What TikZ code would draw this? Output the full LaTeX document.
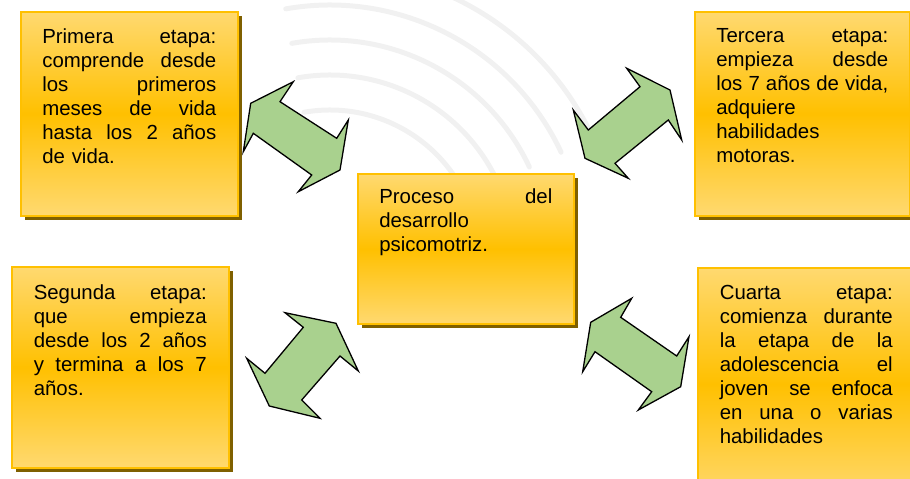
\documentclass[tikz,border=0pt]{standalone}
\usepackage{fontspec}
\setmainfont{Liberation Sans}
\usetikzlibrary{shadows}
\definecolor{boxgold}{RGB}{255,192,0}
\definecolor{boxlight}{RGB}{255,217,112}
\definecolor{boxshadow}{RGB}{127,96,0}
\definecolor{arrowgreen}{RGB}{169,209,142}
\definecolor{sealgray}{RGB}{241,241,241}
\NewDocumentCommand{\jline}{O{173pt}m}{%
    \leavevmode\hbox to #1{\spaceskip=.278em plus 1fil\xspaceskip=\spaceskip\relax #2}%
}

\begin{document}
\begin{tikzpicture}[x=1pt, y=-1pt]
            \tikzstyle{stagebox}=[rectangle, anchor=north west, draw=boxgold, line width=1.6pt, top color=boxlight, bottom color=boxlight, middle color=boxgold, drop shadow={fill=boxshadow, opacity=1, shadow xshift=4pt, shadow yshift=-4pt}, inner xsep=21.5pt, inner ysep=0pt, align=left, text=black, font=\fontsize{20.4}{24}\selectfont];
            \tikzstyle{dblarrow}=[draw=black, line width=1.3pt, fill=arrowgreen, line join=miter];

            \useasboundingbox (0,0) rectangle (910,479);
            \clip (0,0) rectangle (910,479);

            % sello de fondo
            \foreach \r in {150,185,220,255,290}
                \draw[sealgray, line width=5pt, line cap=round] (330,260) ++(-100:\r) arc (-100:-25:\r);

            % etapas
            \node[stagebox, text width=174pt, text height=32pt, text depth=172pt] (primera) at (20,11) {%
                \jline[174pt]{Primera etapa:}\\ \jline[174pt]{comprende desde}\\ \jline[174pt]{los primeros}\\
                \jline[174pt]{meses de vida}\\ \jline[174pt]{hasta los 2 años}\\ de vida.};
            \node[stagebox, text width=172pt, text height=31pt, text depth=173pt] (tercera) at (694,11) {%
                \jline[172pt]{Tercera etapa:}\\ \jline[172pt]{empieza desde}\\ \jline[172pt]{los 7 años de vida,}\\
                adquiere\\ habilidades\\ motoras.};
            \node[stagebox, text width=173pt, inner xsep=22pt, text height=33pt, text depth=168pt] (segunda) at (11,266) {%
                \jline{Segunda etapa:}\\ \jline{que empieza}\\ \jline{desde los 2 años}\\
                \jline{y termina a los 7}\\ años.};
            \node[stagebox, text width=173pt, inner xsep=22pt, text height=32pt, text depth=200pt] (cuarta) at (697,267) {%
                \jline{Cuarta etapa:}\\ \jline{comienza durante}\\ \jline{la etapa de la}\\
                \jline{adolescencia el}\\ \jline{joven se enfoca}\\ \jline{en una o varias}\\ habilidades};

            % centro
            \node[stagebox, text width=173pt, text height=30pt, text depth=120pt] (proceso) at (357,173) {%
                \jline{Proceso del}\\ desarrollo\\ psicomotriz.};

            % flechas dobles
            \draw[dblarrow] (250.7,103.3) -- (293.3,81.7) -- (280,101.7) -- (336.7,138.3) -- (348.3,120)
                -- (340,170) -- (298.3,191.7) -- (311.7,175) -- (253.3,133.3) -- (243.3,151.7) -- cycle;
            \draw[dblarrow] (670,90) -- (681.7,140) -- (668.3,120) -- (615,163.3) -- (628.3,178.3)
                -- (585,158.3) -- (573.3,110) -- (588.3,130) -- (640,86.7) -- (626.7,68.3) -- cycle;
            \draw[dblarrow] (336,323.3) -- (358.3,371) -- (340,356) -- (301.7,400) -- (320,418.3)
                -- (269.3,406) -- (246.7,358.3) -- (265,373.3) -- (303.3,327.3) -- (285,312.7) -- cycle;
            \draw[dblarrow] (590.7,322.3) -- (631.7,298.3) -- (620.7,317.3) -- (676.7,356) -- (689,336.7)
                -- (680.7,386.7) -- (638.3,410) -- (651.7,391.7) -- (595,351.7) -- (582.7,371.7) -- cycle;
\end{tikzpicture}
\end{document}
